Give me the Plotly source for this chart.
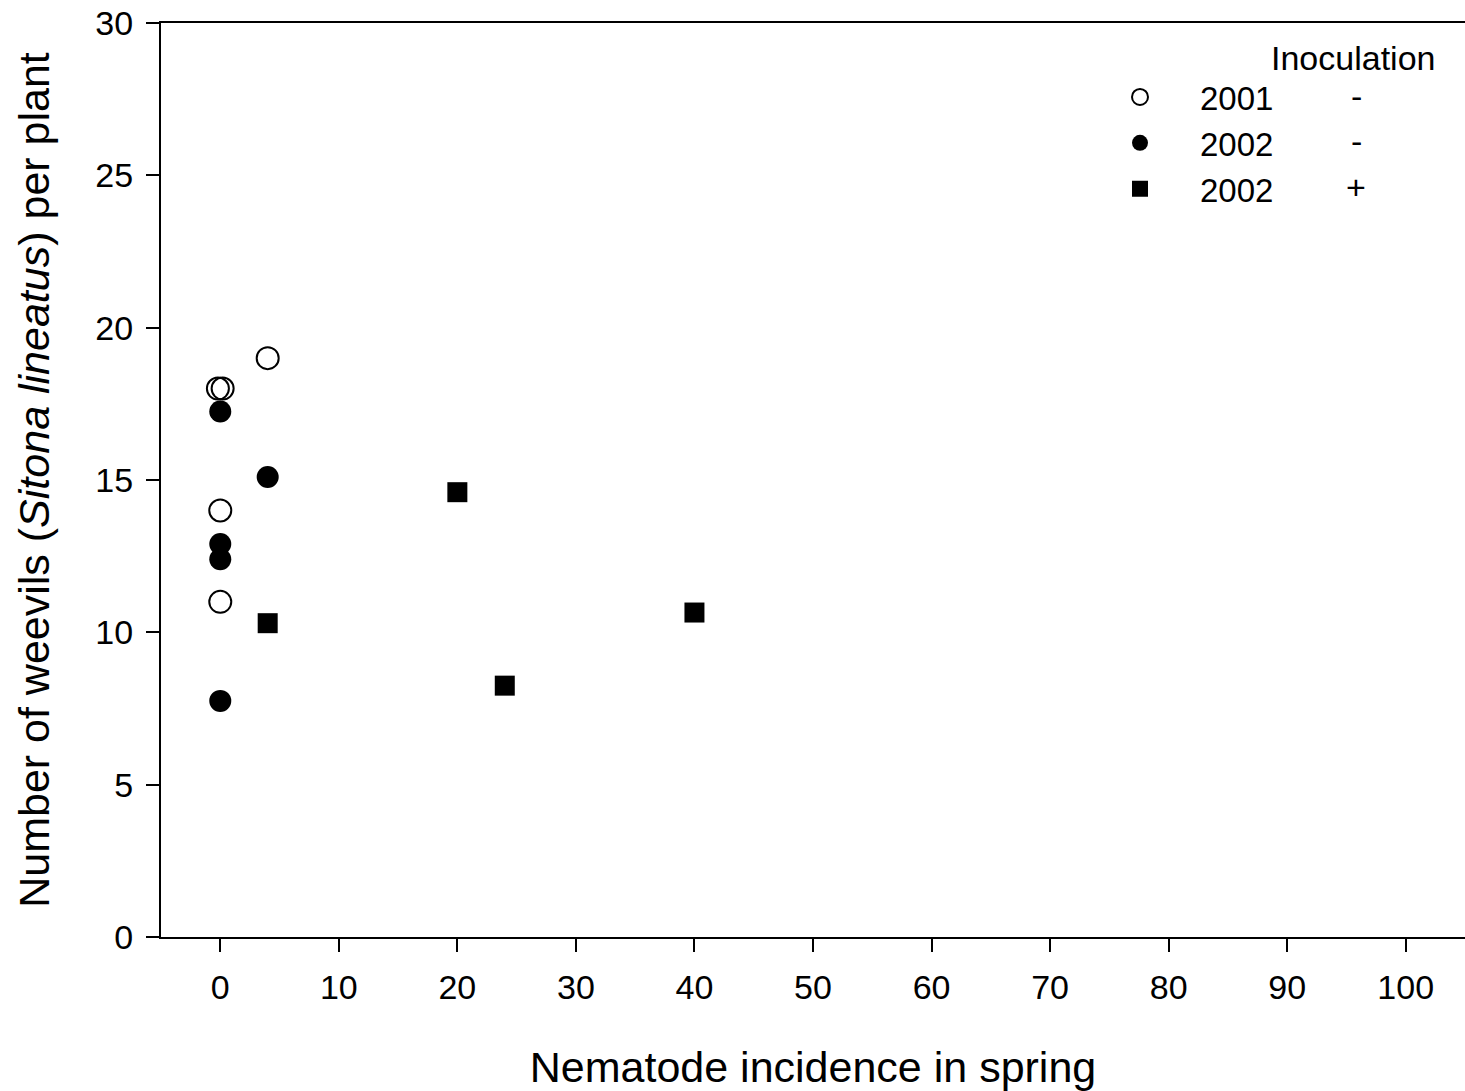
import plotly.graph_objects as go

# Data
x_2001_neg = [-0.2, 0.2, 4, 0, 0]
y_2001_neg = [18.0, 18.0, 19.0, 14.0, 11.0]

x_2002_neg = [0, 4, 0, 0, 0]
y_2002_neg = [17.25, 15.1, 12.9, 12.4, 7.75]

x_2002_pos = [4, 20, 24, 40]
y_2002_pos = [10.3, 14.6, 8.25, 10.65]

legend_years = ["2001", "2002", "2002"]
legend_inoc = ["-", "-", "+"]

x_ticks = list(range(0, 101, 10))
y_ticks = list(range(0, 31, 5))

FONT = "Liberation Sans, Arial, sans-serif"

fig = go.Figure()
fig.add_trace(go.Scatter(x=x_2001_neg, y=y_2001_neg, mode="markers", name=legend_years[0],
                         legendgroup="a",
                         marker=dict(symbol="circle-open", size=22, color="black",
                                     line=dict(width=2, color="black"))))
fig.add_trace(go.Scatter(x=x_2002_neg, y=y_2002_neg, mode="markers", name=legend_years[1],
                         legendgroup="b",
                         marker=dict(symbol="circle", size=22, color="black")))
fig.add_trace(go.Scatter(x=x_2002_pos, y=y_2002_pos, mode="markers", name=legend_years[2],
                         legendgroup="c",
                         marker=dict(symbol="square", size=20, color="black")))

W, H = 1465, 1091
L, R, T, B = 161, 0, 23, 154
pw, ph = W - L - R, H - T - B

def px2paper(xp, yp):
    return (xp - L) / pw, (H - B - yp) / ph

annotations = []
hx, hy = px2paper(1353, 58)
annotations.append(dict(text="Inoculation", x=hx, y=hy, xref="paper", yref="paper",
                        showarrow=False, xanchor="center", yanchor="middle",
                        font=dict(size=34, color="black", family=FONT)))
for i, (s, ypx) in enumerate(zip(legend_inoc, [96, 141, 187])):
    ax, ay = px2paper(1356, ypx)
    annotations.append(dict(text=s, x=ax, y=ay, xref="paper", yref="paper",
                            showarrow=False, xanchor="center", yanchor="middle",
                            font=dict(size=34, color="black", family=FONT)))

lx, ly = px2paper(1080, 69)

fig.update_layout(
    width=W, height=H,
    margin=dict(l=L, r=R, t=T, b=B),
    paper_bgcolor="white", plot_bgcolor="white",
    font=dict(family=FONT, color="black", size=34),
    showlegend=True,
    legend=dict(x=lx, y=ly, xanchor="left", yanchor="top",
                font=dict(size=33, family=FONT, color="black"),
                bgcolor="rgba(0,0,0,0)", itemwidth=110, tracegroupgap=0,
                itemclick=False),
    annotations=annotations,
    xaxis=dict(range=[-5, 105], tickvals=x_ticks, ticks="outside", ticklen=13, tickwidth=2,
               tickcolor="black", showline=True, linewidth=2, linecolor="black", mirror=True,
               showgrid=False, zeroline=False, tickfont=dict(size=34), ticklabelstandoff=6,
               title=dict(text="Nematode incidence in spring", font=dict(size=43), standoff=47)),
    yaxis=dict(range=[0, 30], tickvals=y_ticks, ticks="outside", ticklen=13, tickwidth=2,
               tickcolor="black", showline=True, linewidth=2, linecolor="black",
               showgrid=False, zeroline=False, tickfont=dict(size=34), ticklabelstandoff=6,
               title=dict(text="Number of weevils (<i>Sitona lineatus</i>) per plant",
                          font=dict(size=43), standoff=32)),
)

fig.write_html("out.html")
